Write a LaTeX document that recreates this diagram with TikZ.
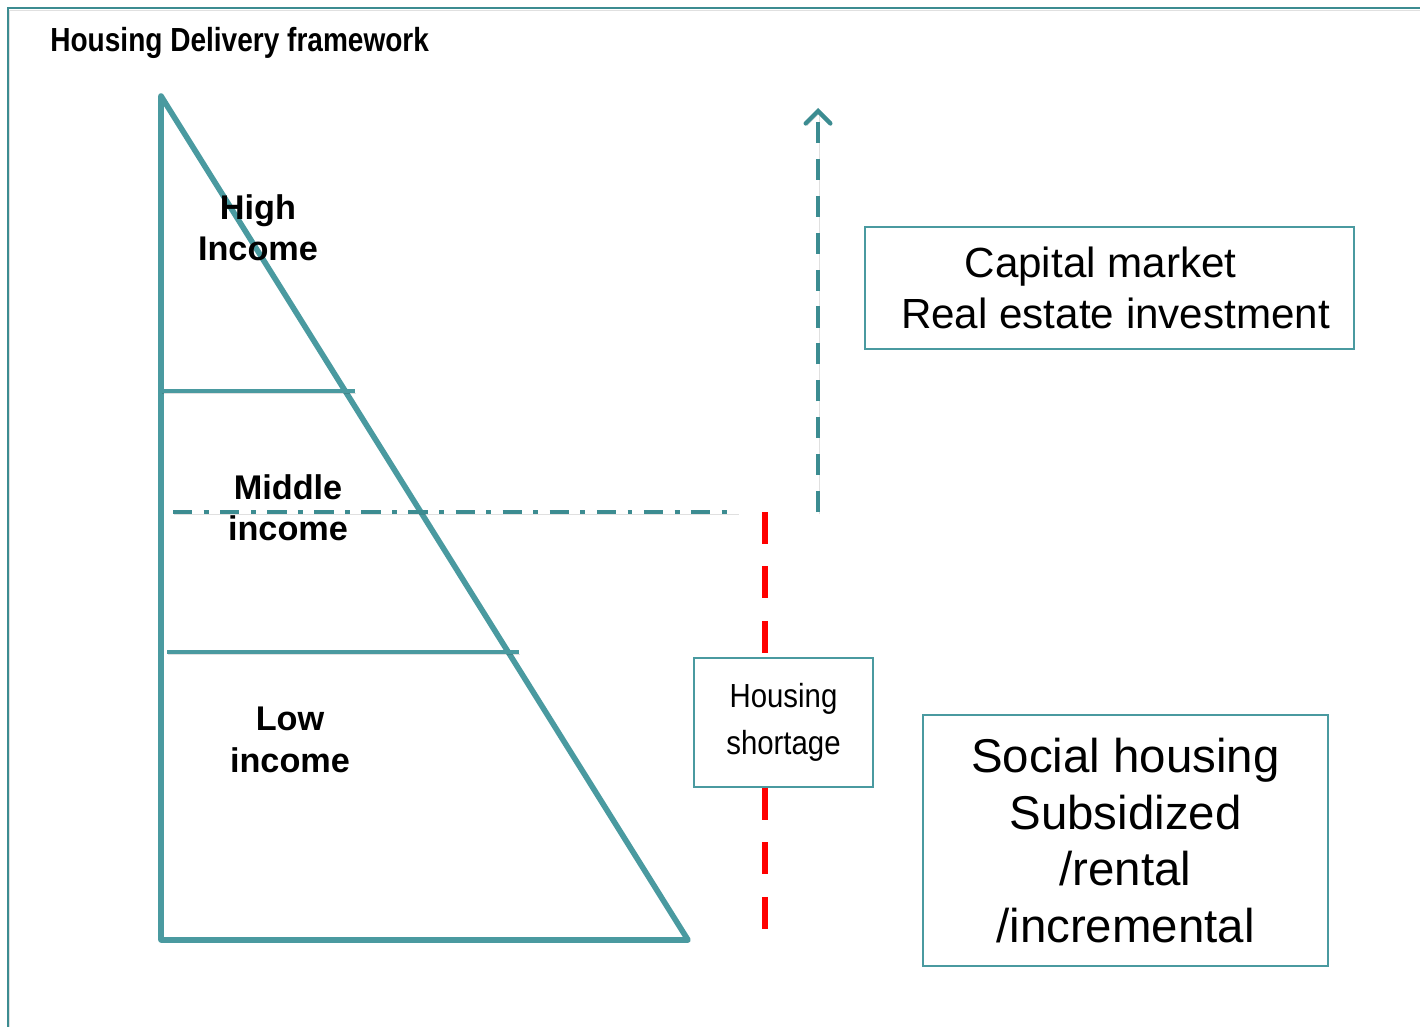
\documentclass[tikz,border=0pt]{standalone}
\usepackage{fontspec}
\setmainfont{Liberation Sans}
\newfontfamily\narrowfont[FakeStretch=0.88]{Liberation Sans}
\newfontfamily\titlefont[FakeStretch=0.84]{Liberation Sans}
\usetikzlibrary{arrows.meta,positioning}
\definecolor{tealline}{RGB}{74,154,160}
\definecolor{tealdark}{RGB}{60,140,145}
\definecolor{gapred}{RGB}{255,0,0}

\begin{document}
\begin{tikzpicture}[x=0.02cm,y=-0.02cm]
	\tikzstyle{shade_l}=[preaction={draw=black,opacity=0.12,transform canvas={shift={(0.6pt,-1.4pt)}}}]
	\tikzstyle{tri}=[draw=tealline, line width=3.2pt, line join=round, shade_l]
	\tikzstyle{band}=[draw=tealline, shade_l]
	\tikzstyle{rect_b}=[draw=tealline, line width=1.1pt, rectangle, align=center, inner sep=0pt]
	\tikzstyle{level}=[align=center, font=\fontsize{19.5}{23.5}\selectfont\bfseries]

	\useasboundingbox (0,0) rectangle (1420,1027);

	% frame
	\coordinate (fr_r) at (1425,8);
	\coordinate (fr_b) at (8,1032);
	\draw[tealdark, line width=1.4pt, shade_l] (fr_r) -| (fr_b);

	\node[anchor=base west, inner sep=0pt, font=\titlefont\fontsize{19}{23}\selectfont\bfseries] (title) at (50,52) {Housing Delivery framework};

	% income triangle
	\coordinate (apex) at (161,96);
	\coordinate (bl) at (161,940);
	\coordinate (br) at (688,940);
	\draw[tri] (apex) -- (bl) -- (br) -- cycle;

	\coordinate (hi_l) at (161,391);
	\coordinate (hi_r) at (355,391);
	\coordinate (lo_l) at (167,652);
	\coordinate (lo_r) at (519,652);
	\draw[band, line width=1.9pt] (hi_l) -- (hi_r);
	\draw[band, line width=2.6pt] (lo_l) -- (lo_r);

	\node[level] (high) at (258,228) {High\\Income};
	\node[level] (mid) at (288,508) {Middle\\income};
	\node[level] (low) at (290,740) {Low\\income};

	% affordability line
	\coordinate (aff_l) at (173,512);
	\coordinate (aff_r) at (738,512);
	\draw[tealdark, line width=2.5pt, dash pattern=on 11pt off 6.5pt on 2.8pt off 6.5pt, shade_l] (aff_l) -- (aff_r);

	% boxes
	\node[rect_b, minimum width=9.78cm, minimum height=2.44cm, font=\fontsize{24}{29.5}\selectfont] (cap) at (1109.5,288) {Capital market\hspace*{0.36cm}\\ \hspace*{0.24cm}Real estate investment};
	\node[rect_b, minimum width=3.58cm, minimum height=2.58cm, font=\narrowfont\fontsize{19}{27}\selectfont] (short) at (783.5,722.5) {Housing\\shortage};
	\node[rect_b, minimum width=8.1cm, minimum height=5.02cm, font=\fontsize{27}{32.3}\selectfont] (social) at (1125.5,840.5) {Social housing\\Subsidized\\/rental\\/incremental};

	% market arrow
	\coordinate (mk_b) at (818,512);
	\coordinate (mk_t) at (818,108);
	\draw[-{Straight Barb[length=7pt,width=14pt,line cap=round]}, tealdark, line width=2.5pt, dash pattern=on 12pt off 9pt, shade_l] (mk_b) -- (mk_t);

	% shortage gap
	\coordinate (gap_t) at (765,512);
	\coordinate (gap_b) at (765,935);
	\draw[gapred, line width=3.8pt, dash pattern=on 18pt off 13pt] (gap_t) -- (gap_t |- short.north);
	\draw[gapred, line width=3.8pt, dash pattern=on 18pt off 13pt] (gap_t |- short.south) -- (gap_b);
\end{tikzpicture}
\end{document}
